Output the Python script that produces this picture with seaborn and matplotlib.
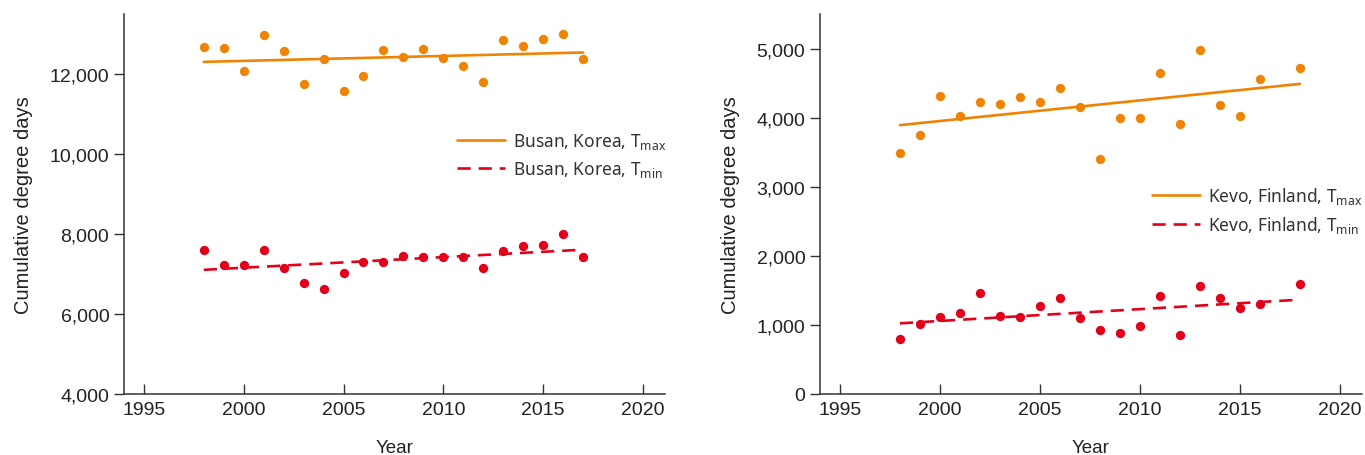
import numpy as np
import pandas as pd
import matplotlib
matplotlib.use("Agg")
import matplotlib.pyplot as plt
from matplotlib.ticker import StrMethodFormatter
import seaborn as sns

# Cumulative degree days
busan_years = list(range(1998, 2018))
busan_tmax = [12675, 12640, 12075, 12985, 12585, 11740, 12375, 11585, 11940, 12590,
              12435, 12625, 12400, 12200, 11790, 12840, 12690, 12865, 13000, 12375]
busan_tmin = [7590, 7215, 7215, 7610, 7160, 6775, 6625, 7015, 7310, 7290,
              7460, 7425, 7415, 7425, 7160, 7575, 7700, 7715, 8005, 7435]

kevo_years = [1998, 1999, 2000, 2001, 2002, 2003, 2004, 2005, 2006, 2007,
              2008, 2009, 2010, 2011, 2012, 2013, 2014, 2015, 2016, 2018]
kevo_tmax = [3495, 3745, 4315, 4020, 4230, 4195, 4300, 4225, 4435, 4150,
             3405, 4000, 3995, 4645, 3905, 4980, 4185, 4020, 4560, 4725]
kevo_tmin = [800, 1015, 1110, 1170, 1455, 1125, 1110, 1275, 1390, 1100,
             930, 880, 990, 1425, 855, 1570, 1390, 1245, 1305, 1585]

ORANGE = "#EE8304"
RED = "#E2001A"
TEXT = "#222222"
LEG_TEXT = "#333333"

sns.set_style("ticks")
plt.rcParams['font.family'] = ['Liberation Sans', 'DejaVu Sans']
plt.rcParams['mathtext.fontset'] = 'custom'
plt.rcParams['mathtext.rm'] = 'Noto Sans'
plt.rcParams['mathtext.it'] = 'Noto Sans'

fig = plt.figure(figsize=(13.65, 4.56), dpi=100)
ax1 = fig.add_axes([0.0908, 0.1338, 0.3963, 0.8333])
ax2 = fig.add_axes([0.6007, 0.1338, 0.3970, 0.8333])


def panel(ax, years, tmax, tmin, place, ylim, yticks, anchor):
    df = pd.DataFrame({"Year": years, "Tmax": tmax, "Tmin": tmin})
    sns.regplot(data=df, x="Year", y="Tmax", ax=ax, ci=None, color=ORANGE,
                scatter_kws={"s": 45, "linewidths": 0, "alpha": 1},
                line_kws={"lw": 1.9, "label": place + r", T$_{\mathrm{max}}$"})
    sns.regplot(data=df, x="Year", y="Tmin", ax=ax, ci=None, color=RED,
                scatter_kws={"s": 45, "linewidths": 0, "alpha": 1},
                line_kws={"lw": 1.9, "ls": (0, (5, 3)), "label": place + r", T$_{\mathrm{min}}$"})
    ax.set_xlim(1994, 2021.1)
    ax.set_ylim(*ylim)
    ax.set_xticks([1995, 2000, 2005, 2010, 2015, 2020])
    ax.set_yticks(yticks)
    ax.yaxis.set_major_formatter(StrMethodFormatter('{x:,.0f}'))
    ax.set_xlabel("Year", fontsize=13.5, color=TEXT, labelpad=15)
    ax.set_ylabel("Cumulative degree days", fontsize=14.5, color=TEXT, labelpad=12)
    ax.tick_params(axis="y", direction="out", labelsize=14, colors=TEXT,
                   length=7, width=1, color="#333333")
    ax.tick_params(axis="x", direction="in", labelsize=14, colors=TEXT,
                   length=7, width=1, color="#333333", pad=5)
    for s in ["left", "bottom"]:
        ax.spines[s].set_color("#333333")
        ax.spines[s].set_linewidth(1.1)
    sns.despine(ax=ax)
    leg = ax.legend(loc="center left", bbox_to_anchor=anchor, frameon=False,
                    prop={"family": "Noto Sans", "size": 12.5},
                    handlelength=2.75, labelspacing=0.45,
                    borderaxespad=0, handletextpad=0.45)
    for t in leg.get_texts():
        t.set_color(LEG_TEXT)


panel(ax1, busan_years, busan_tmax, busan_tmin, "Busan, Korea",
      (4000, 13500), [4000, 6000, 8000, 10000, 12000], (0.603, 0.628))
panel(ax2, kevo_years, kevo_tmax, kevo_tmin, "Kevo, Finland",
      (0, 5500), [0, 1000, 2000, 3000, 4000, 5000], (0.6, 0.484))

fig.savefig("out.png", dpi=100)
